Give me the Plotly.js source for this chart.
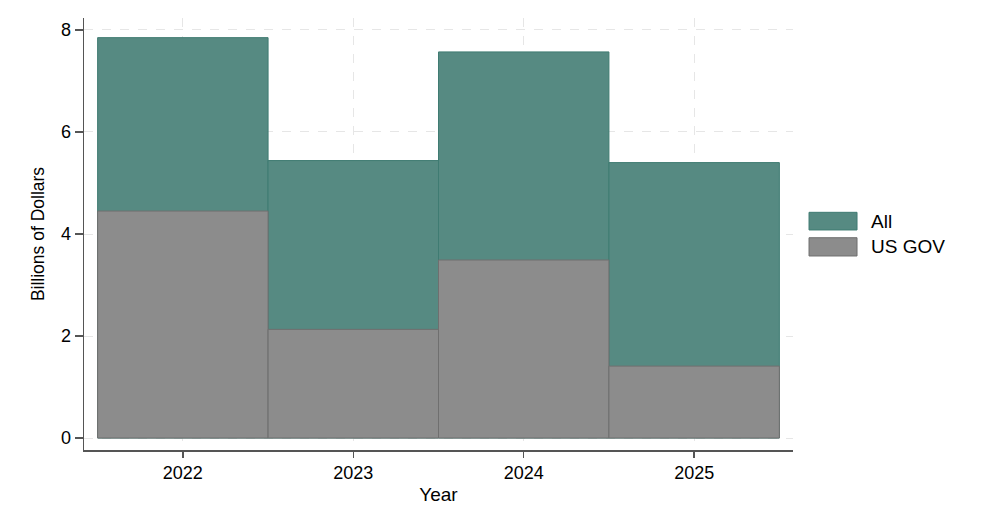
<!DOCTYPE html>
<html>
<head>
<meta charset="utf-8">
<script src="https://cdn.plot.ly/plotly-3.0.1.min.js"></script>
<style>html,body{margin:0;padding:0;background:#fff;}#chart{width:991px;height:528px;}</style>
</head>
<body>
<div id="chart"></div>
<script>
const years = [2022, 2023, 2024, 2025];
const allValues = [7.85, 5.44, 7.57, 5.40];
const usGovValues = [4.45, 2.13, 3.49, 1.41];
const seriesNames = ["All", "US GOV"];
const yTicks = [0, 2, 4, 6, 8];

const green = "#568a82", greenLine = "#3f7b72";
const grey = "#8c8c8c", greyLine = "#6f6f6f";
const font = "Liberation Sans, Arial, sans-serif";

const traces = [
  {type: "bar", name: seriesNames[0], x: years, y: allValues, width: 1,
   marker: {color: green, line: {color: greenLine, width: 1}}, showlegend: false},
  {type: "bar", name: seriesNames[1], x: years, y: usGovValues, width: 1,
   marker: {color: grey, line: {color: greyLine, width: 1}}, showlegend: false}
];

const lx0 = 1.0226, lx1 = 1.0903, ltx = 1.1072;
const legendBoxes = [[0.5093, 0.5502], [0.4491, 0.4914]];
const legendColors = [[green, greenLine], [grey, greyLine]];
const shapes = [], annotations = [];
seriesNames.forEach((n, i) => {
  shapes.push({type: "rect", xref: "paper", yref: "paper", x0: lx0, x1: lx1,
    y0: legendBoxes[i][0], y1: legendBoxes[i][1],
    fillcolor: legendColors[i][0], line: {color: legendColors[i][1], width: 1}});
  annotations.push({xref: "paper", yref: "paper", x: ltx, y: (legendBoxes[i][0] + legendBoxes[i][1]) / 2,
    xanchor: "left", yanchor: "middle", showarrow: false, text: n,
    font: {family: font, size: 19, color: "#000"}});
});

const layout = {
  width: 991, height: 528,
  margin: {l: 84, r: 198, t: 18, b: 78},
  paper_bgcolor: "#fff", plot_bgcolor: "#fff",
  barmode: "overlay", bargap: 0,
  showlegend: false,
  font: {family: font, size: 18, color: "#000"},
  xaxis: {
    range: [2021.42, 2025.58], tickvals: years, ticktext: years.map(String),
    showline: true, linecolor: "#555", linewidth: 1.5,
    ticks: "outside", ticklen: 6, tickcolor: "#555", tickwidth: 1.5,
    showgrid: true, gridcolor: "#e6e6e6", griddash: "dash", gridwidth: 1,
    zeroline: false, tickfont: {size: 18, family: font},
    title: {text: "Year", font: {size: 19, family: font}, standoff: 5}
  },
  yaxis: {
    range: [-0.235, 8.235], tickvals: yTicks, ticktext: yTicks.map(String),
    showline: true, linecolor: "#555", linewidth: 1.5,
    ticks: "outside", ticklen: 8, tickcolor: "#555", tickwidth: 1.5,
    showgrid: true, gridcolor: "#e6e6e6", griddash: "dash", gridwidth: 1,
    zeroline: false, tickfont: {size: 18, family: font},
    title: {text: "Billions of Dollars", font: {size: 17.5, family: font}, standoff: 12}
  },
  shapes: shapes,
  annotations: annotations
};

Plotly.newPlot("chart", traces, layout, {displayModeBar: false, staticPlot: true});
</script>
</body>
</html>
